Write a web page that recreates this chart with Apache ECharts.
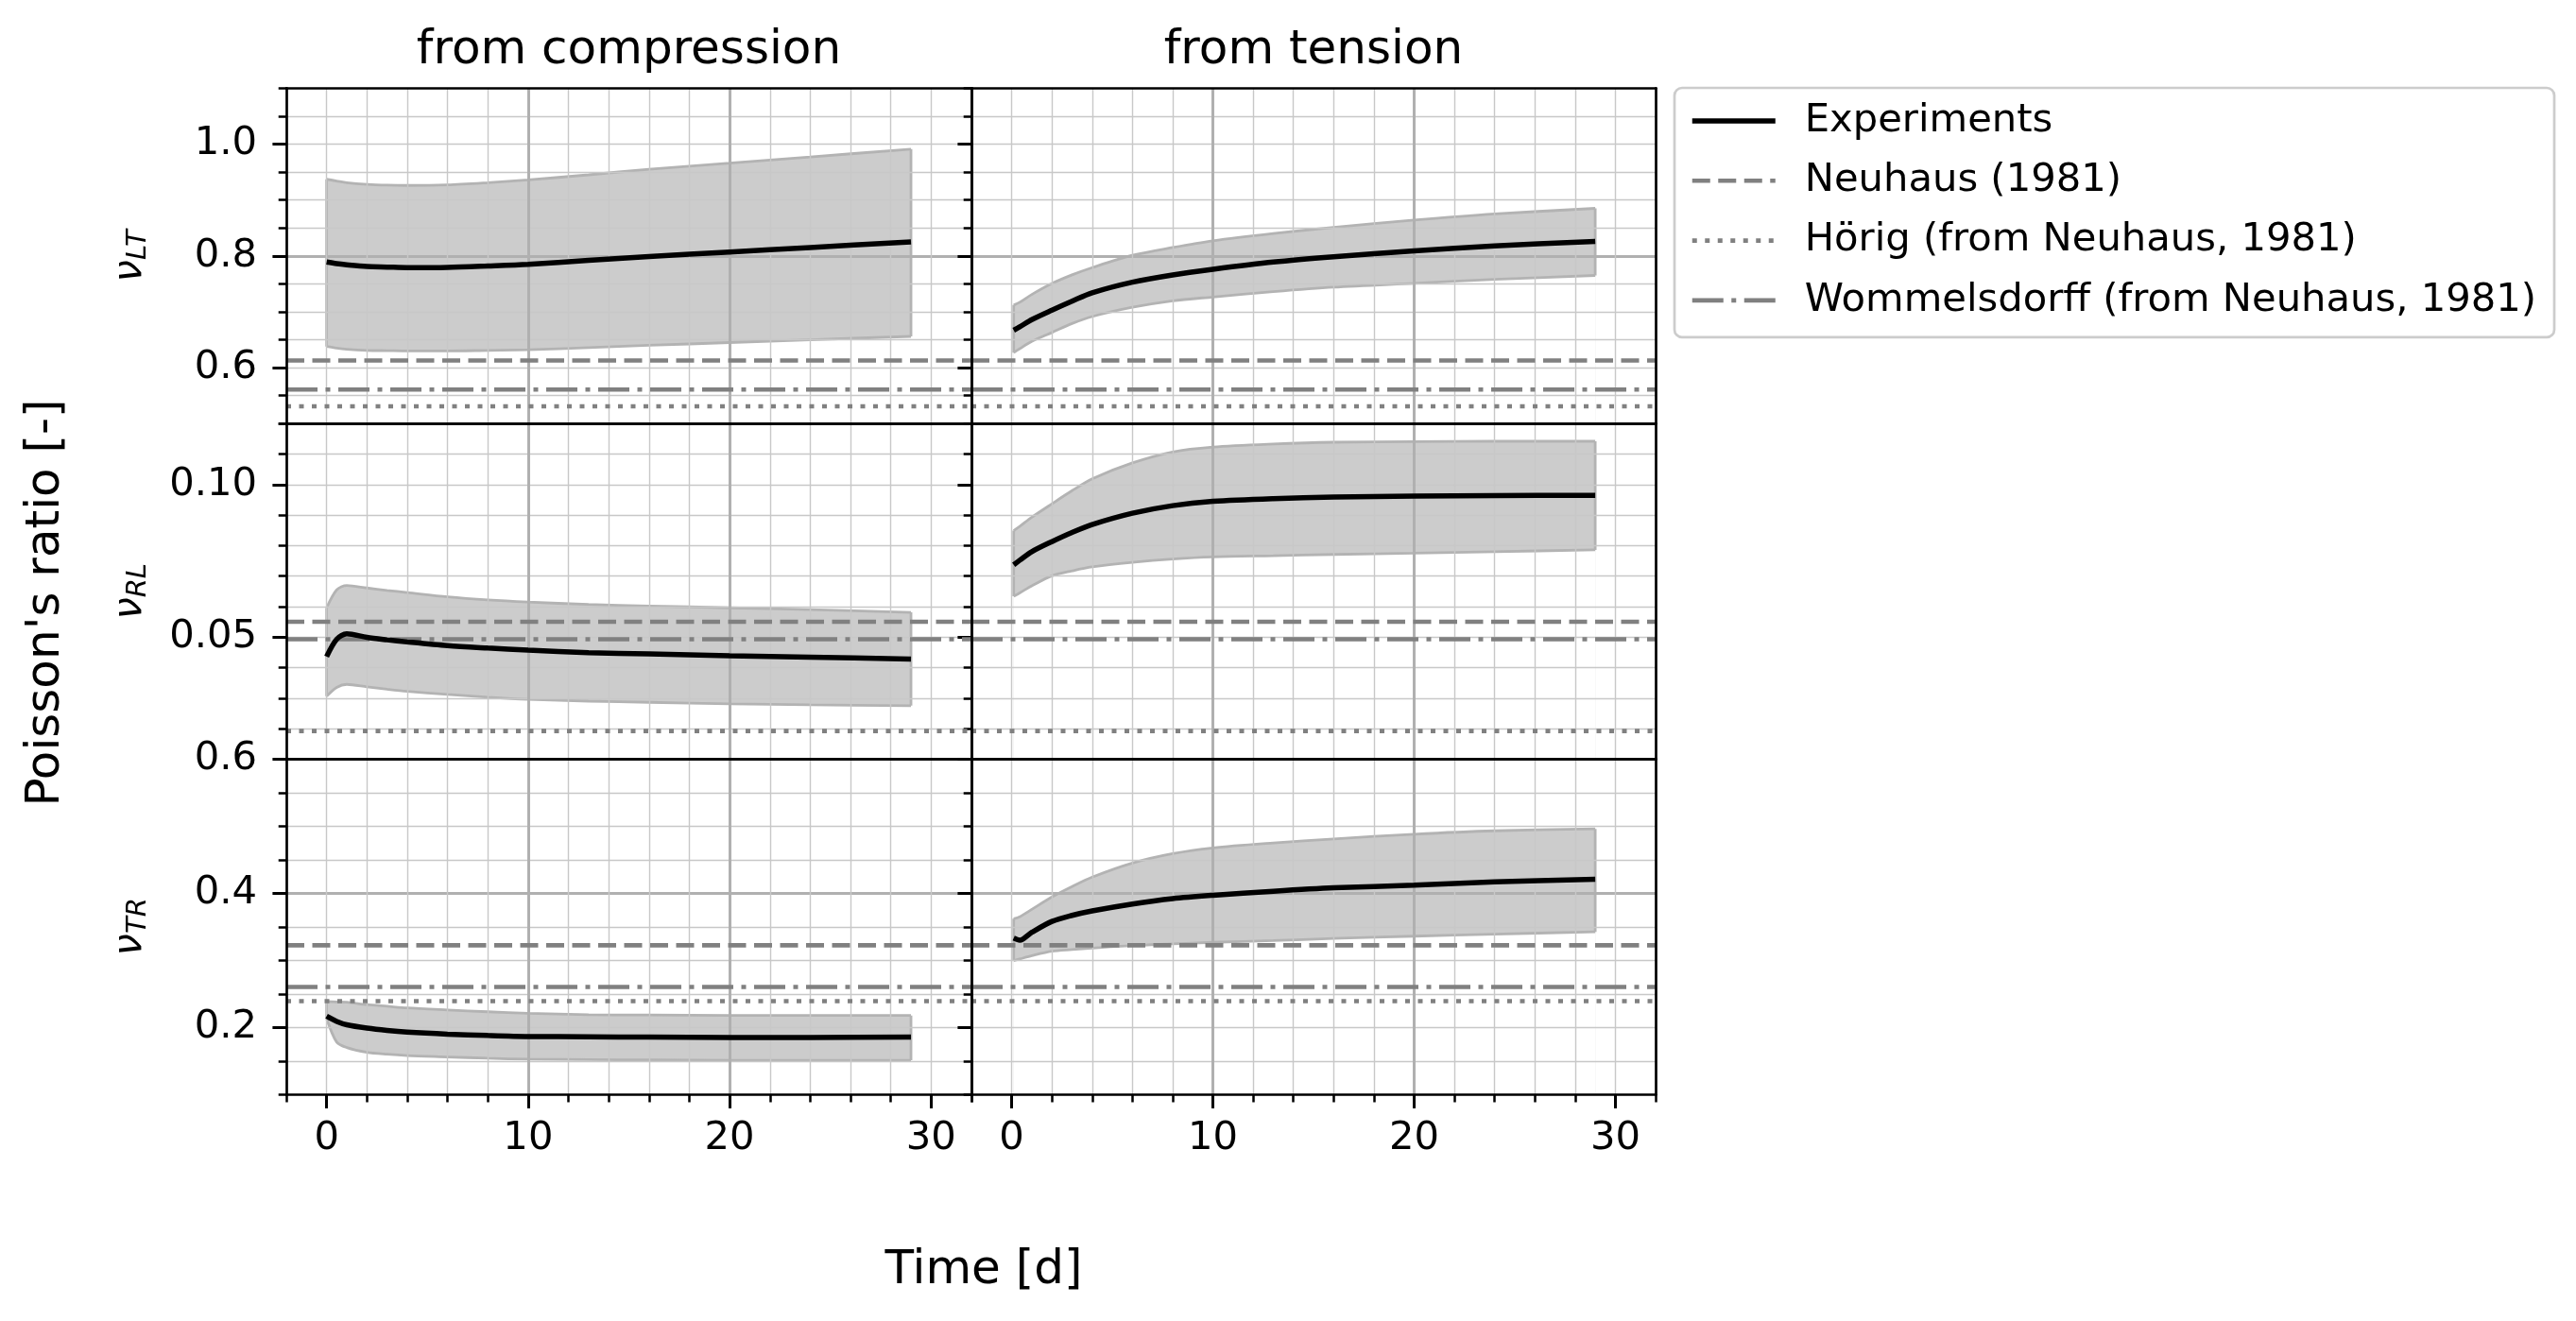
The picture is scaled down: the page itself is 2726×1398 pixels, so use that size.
<!DOCTYPE html>
<html><head><meta charset="utf-8">
<script src="https://cdn.jsdelivr.net/npm/echarts@6/dist/echarts.min.js"></script>
<style>html,body{margin:0;padding:0;background:#fff}#c{width:2726px;height:1398px}</style>
</head><body><div id="c"></div><script>
const FONT = 'DejaVu Sans';
// ---- axes ----
const X_MIN = -2, X_MAX = 32;
const X_TICKS = [0, 10, 20, 30];
const LT_TICKS = [0.6, 0.8, 1.0];
const RL_TICKS = [0.05, 0.10];
const TR_TICKS = [0.2, 0.4, 0.6];
const COL_TITLES = ['from compression', 'from tension'];
const ROW_SUBS = ['LT', 'RL', 'TR'];
// ---- time samples [d] ----
const T_COMP = [0, 0.5, 1, 2, 3, 4, 6, 8, 10, 13, 16, 20, 24, 29];
const T_TENS = [0.1, 0.4, 1, 2, 3, 4, 6, 8, 10, 13, 16, 20, 24, 29];
// ---- nu_LT ----
const LT_COMP_MEAN = [0.789, 0.786, 0.784, 0.781, 0.780, 0.779, 0.7795, 0.782, 0.785, 0.792, 0.799, 0.807, 0.815, 0.825];
const LT_COMP_LO   = [0.638, 0.635, 0.633, 0.631, 0.6305, 0.630, 0.630, 0.631, 0.632, 0.636, 0.640, 0.645, 0.650, 0.656];
const LT_COMP_HI   = [0.937, 0.934, 0.931, 0.928, 0.9265, 0.926, 0.927, 0.931, 0.936, 0.945, 0.955, 0.966, 0.977, 0.991];
const LT_TENS_MEAN = [0.667, 0.673, 0.686, 0.703, 0.719, 0.734, 0.753, 0.766, 0.776, 0.789, 0.7985, 0.809, 0.818, 0.826];
const LT_TENS_LO   = [0.627, 0.634, 0.647, 0.663, 0.679, 0.6915, 0.708, 0.7197, 0.7265, 0.736, 0.744, 0.751, 0.758, 0.765];
const LT_TENS_HI   = [0.712, 0.717, 0.731, 0.7506, 0.766, 0.779, 0.801, 0.815, 0.827, 0.840, 0.851, 0.864, 0.875, 0.885];
// ---- nu_RL ----
const RL_COMP_MEAN = [0.0436, 0.0493, 0.0511, 0.0499, 0.0491, 0.0484, 0.0472, 0.0464, 0.0457, 0.0449, 0.0445, 0.0439, 0.0434, 0.0428];
const RL_COMP_LO   = [0.0306, 0.0335, 0.0345, 0.0337, 0.0329, 0.0322, 0.0312, 0.0303, 0.0296, 0.0290, 0.0286, 0.0281, 0.0278, 0.0275];
const RL_COMP_HI   = [0.0596, 0.0655, 0.0669, 0.0661, 0.0653, 0.0646, 0.0632, 0.0622, 0.0615, 0.0607, 0.0602, 0.0596, 0.0590, 0.0581];
const RL_TENS_MEAN = [0.0737, 0.0752, 0.0780, 0.0813, 0.0843, 0.0869, 0.0906, 0.0931, 0.0945, 0.0954, 0.0959, 0.0962, 0.0964, 0.0965];
const RL_TENS_LO   = [0.0634, 0.0645, 0.0668, 0.0701, 0.0717, 0.0730, 0.0745, 0.0756, 0.0763, 0.0767, 0.0771, 0.0775, 0.0780, 0.0786];
const RL_TENS_HI   = [0.0849, 0.0863, 0.0893, 0.0937, 0.0980, 0.1019, 0.1071, 0.1107, 0.1123, 0.1133, 0.1139, 0.1141, 0.1142, 0.1142];
// ---- nu_TR ----
const TR_COMP_MEAN = [0.2167, 0.209, 0.204, 0.199, 0.1955, 0.193, 0.190, 0.188, 0.1865, 0.186, 0.1855, 0.185, 0.185, 0.1855];
const TR_COMP_LO   = [0.213, 0.178, 0.170, 0.163, 0.160, 0.158, 0.156, 0.154, 0.1526, 0.152, 0.1515, 0.151, 0.151, 0.151];
const TR_COMP_HI   = [0.2386, 0.238, 0.2375, 0.234, 0.2315, 0.229, 0.226, 0.2233, 0.221, 0.219, 0.2185, 0.2178, 0.2178, 0.2178];
const TR_TENS_MEAN = [0.333, 0.330, 0.3417, 0.358, 0.367, 0.3737, 0.384, 0.392, 0.397, 0.403, 0.408, 0.412, 0.417, 0.4208];
const TR_TENS_LO   = [0.2995, 0.302, 0.307, 0.3136, 0.316, 0.3183, 0.322, 0.3244, 0.3268, 0.3295, 0.3325, 0.336, 0.339, 0.3425];
const TR_TENS_HI   = [0.362, 0.365, 0.376, 0.3944, 0.410, 0.424, 0.445, 0.459, 0.4676, 0.475, 0.481, 0.488, 0.493, 0.496];
// ---- literature values (LT, RL, TR) ----
const REF_NEUHAUS = [0.613, 0.0550, 0.3225];
const REF_HORIG   = [0.531, 0.0192, 0.2392];
const REF_WOMMELS = [0.561, 0.0493, 0.2603];
const LEGEND_NAMES = ['Experiments', 'Neuhaus (1981)', 'Hörig (from Neuhaus, 1981)', 'Wommelsdorff (from Neuhaus, 1981)'];

const rows = [
  {ticks: LT_TICKS, range: [0.5, 1.1], minor: 0.05, dec: 1,
   data: [[T_COMP, LT_COMP_MEAN, LT_COMP_LO, LT_COMP_HI], [T_TENS, LT_TENS_MEAN, LT_TENS_LO, LT_TENS_HI]]},
  {ticks: RL_TICKS, range: [0.01, 0.12], minor: 0.01, dec: 2,
   data: [[T_COMP, RL_COMP_MEAN, RL_COMP_LO, RL_COMP_HI], [T_TENS, RL_TENS_MEAN, RL_TENS_LO, RL_TENS_HI]]},
  {ticks: TR_TICKS, range: [0.1, 0.6], minor: 0.05, dec: 1,
   data: [[T_COMP, TR_COMP_MEAN, TR_COMP_LO, TR_COMP_HI], [T_TENS, TR_TENS_MEAN, TR_TENS_LO, TR_TENS_HI]]}
];
const REFS = [
  {name: LEGEND_NAMES[1], vals: REF_NEUHAUS, dash: [19, 8.5]},
  {name: LEGEND_NAMES[2], vals: REF_HORIG, dash: [5, 8.5]},
  {name: LEGEND_NAMES[3], vals: REF_WOMMELS, dash: [33, 8.5, 5, 8.5]}
];

const LAY = {left: [303, 1028], width: [725, 724], top: [93.3, 448.3, 803.3], height: 355};
const MAJOR_GRID = {color: '#b0b0b0', width: 3};
const MINOR_GRID = {color: '#c8c8c8', width: 1.4};
const SPINE = {color: '#000', width: 2.7};
const FILL = '#cccccc';
const EDGE = '#b3b3b3';
const GRAY = '#808080';
const LABEL = {fontFamily: FONT, fontSize: 41.7, color: '#000'};
const SMOOTH = {smooth: 0.3};

const grid = [], xAxis = [], yAxis = [], series = [];
function ax(extra) {
  return Object.assign({type: 'value', axisLine: {show: false, onZero: false}, axisTick: {show: false},
    axisLabel: {show: false}, splitLine: {show: false}}, extra);
}

rows.forEach((row, r) => [0, 1].forEach(c => {
  const p = grid.length;
  grid.push({left: LAY.left[c], top: LAY.top[r], width: LAY.width[c], height: LAY.height});
  const bottom = r === rows.length - 1;
  const xr = {gridIndex: p, min: X_MIN, max: X_MAX};
  const yr = {gridIndex: p, min: row.range[0], max: row.range[1]};
  // x axes: minor, major, spine bottom, spine top
  xAxis.push(ax(Object.assign({}, xr, {position: 'bottom', interval: 2,
    axisTick: {show: bottom, length: 8.3, lineStyle: {color: '#000', width: 2.5}},
    splitLine: {show: true, showMinLine: false, showMaxLine: false, lineStyle: MINOR_GRID}})));
  xAxis.push(ax(Object.assign({}, xr, {position: 'bottom',
    axisTick: {show: bottom, customValues: X_TICKS, length: 14.6, lineStyle: {color: '#000', width: 3}},
    axisLabel: {show: bottom, customValues: X_TICKS, margin: 26, ...LABEL},
    splitLine: {show: true, showMinLine: false, showMaxLine: false, lineStyle: MAJOR_GRID}})));
  xAxis.push(ax(Object.assign({}, xr, {position: 'bottom', z: 6, axisLine: {show: true, onZero: false, lineStyle: SPINE}})));
  xAxis.push(ax(Object.assign({}, xr, {position: 'top', z: 6, axisLine: {show: true, onZero: false, lineStyle: SPINE}})));
  // y axes: minor, major, spine left, spine right
  const yMinor = ax(Object.assign({}, yr, {position: 'left', interval: row.minor,
    axisTick: {show: true, length: 8.3, lineStyle: {color: '#000', width: 2.5}},
    splitLine: {show: true, showMinLine: false, showMaxLine: false, lineStyle: MINOR_GRID}}));
  if (c === 0) {
    Object.assign(yMinor, {name: '{n|ν}{s|' + ROW_SUBS[r] + '}', nameLocation: 'middle', nameGap: 142, nameRotate: 90,
      nameTextStyle: {rich: {
        n: {fontFamily: FONT, fontSize: 41.7, fontStyle: 'italic', color: '#000'},
        s: {fontFamily: FONT, fontSize: 29, fontStyle: 'italic', color: '#000', padding: [16, 0, 0, 0]}}}});
  }
  yAxis.push(yMinor);
  yAxis.push(ax(Object.assign({}, yr, {position: 'left',
    axisTick: {show: true, customValues: row.ticks, length: 14.6, lineStyle: {color: '#000', width: 3}},
    axisLabel: {show: c === 0, customValues: row.ticks, margin: 31, ...LABEL,
      formatter: v => Number(v).toFixed(row.dec)},
    splitLine: {show: true, showMinLine: false, showMaxLine: false, lineStyle: MAJOR_GRID}})));
  yAxis.push(ax(Object.assign({}, yr, {position: 'left', z: 6, axisLine: {show: true, onZero: false, lineStyle: SPINE}})));
  yAxis.push(ax(Object.assign({}, yr, {position: 'right', z: 6, axisLine: {show: true, onZero: false, lineStyle: SPINE}})));

  const idx = {xAxisIndex: 4 * p, yAxisIndex: 4 * p};
  const [T, mean, lo, hi] = row.data[c];
  const n = T.length - 1;
  // band: upper edge filled grey down to the axis, then lower edge filled white down to the axis;
  // both lie beneath the grid lines (z = -1), like matplotlib's fill_between.
  series.push(Object.assign({type: 'line', name: 'band-hi', symbol: 'none', z: -1, silent: true,
    data: T.map((t, i) => [t, hi[i]]), areaStyle: {color: FILL, opacity: 1, origin: 'start'},
    lineStyle: {color: EDGE, width: 2.8}}, SMOOTH, idx));
  series.push(Object.assign({type: 'line', name: 'band-lo', symbol: 'none', z: -1, silent: true,
    data: T.map((t, i) => [t, lo[i]]), areaStyle: {color: '#ffffff', opacity: 1, origin: 'start'},
    lineStyle: {color: EDGE, width: 2.8}}, SMOOTH, idx));
  [0, n].forEach(k => series.push(Object.assign({type: 'line', name: 'band-edge', symbol: 'none', z: -1, silent: true,
    data: [[T[k], lo[k]], [T[k], hi[k]]], lineStyle: {color: EDGE, width: 2.8}}, idx)));
  REFS.forEach(ref => series.push(Object.assign({type: 'line', name: ref.name, symbol: 'none', z: 2, silent: true,
    data: [[X_MIN, ref.vals[r]], [X_MAX, ref.vals[r]]], itemStyle: {color: GRAY},
    lineStyle: {color: GRAY, width: 4.6, type: ref.dash}}, idx)));
  series.push(Object.assign({type: 'line', name: LEGEND_NAMES[0], symbol: 'none', z: 3, silent: true,
    data: T.map((t, i) => [t, mean[i]]), itemStyle: {color: '#000'}, lineStyle: {color: '#000', width: 5.5}}, SMOOTH, idx));
}));

const TXT = {fontFamily: FONT, fill: '#000', align: 'center', verticalAlign: 'middle', textAlign: 'center', textVerticalAlign: 'middle'};
const graphic = [
  {type: 'text', x: 665.5, y: 54, style: Object.assign({text: COL_TITLES[0], fontSize: 50}, TXT)},
  {type: 'text', x: 1390, y: 54, style: Object.assign({text: COL_TITLES[1], fontSize: 50}, TXT)},
  {type: 'text', x: 49, y: 638, rotation: Math.PI / 2, style: Object.assign({text: "Poisson's ratio [-]", fontSize: 50}, TXT)},
  {type: 'text', x: 1041, y: 1345, style: Object.assign({text: 'Time [d]', fontSize: 50}, TXT)}
];

const chart = echarts.init(document.getElementById('c'), null, {renderer: 'canvas'});
chart.setOption({
  animation: false,
  backgroundColor: '#fff',
  grid, xAxis, yAxis, series, graphic,
  legend: {show: true, orient: 'vertical', left: 1772, top: 93, data: LEGEND_NAMES, selectedMode: false,
    itemWidth: 88, itemHeight: 20, itemGap: 21.3, padding: [14, 19, 18, 16],
    itemStyle: {opacity: 0, borderWidth: 0},
    lineStyle: {width: 'inherit'},
    borderColor: '#cccccc', borderWidth: 2.7, borderRadius: 8, backgroundColor: 'rgba(255,255,255,0.8)',
    textStyle: {fontFamily: FONT, fontSize: 41.7, color: '#000', lineHeight: 42, padding: [0, 0, 0, 26]}}
});
</script></body></html>
